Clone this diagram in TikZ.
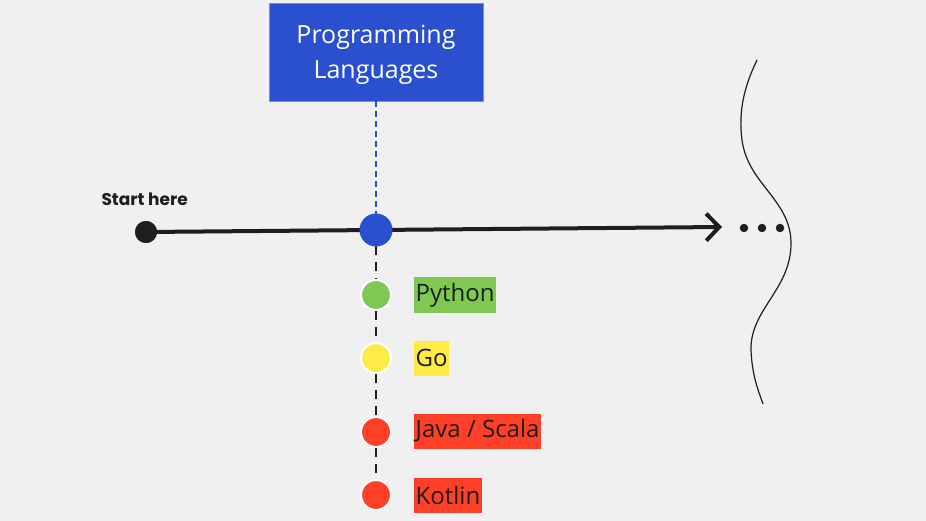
\documentclass[tikz,border=0pt]{standalone}
\usepackage{fontspec}
\setmainfont{Open Sans}
\newfontfamily\startfont{Poppins}
\usetikzlibrary{arrows.meta}
\definecolor{bg}{HTML}{F0F0F0}
\definecolor{ink}{HTML}{1E1E1E}
\definecolor{titleblue}{HTML}{2A50D0}
\definecolor{titleedge}{HTML}{7090E8}
\definecolor{pygreen}{HTML}{7FC852}
\definecolor{goyellow}{HTML}{FFEB45}
\definecolor{javared}{HTML}{FF4026}
\tikzset{
  dotnode/.style={circle,draw=white,line width=2pt,minimum size=30pt,inner sep=0pt},
  lbl/.style={anchor=west,inner xsep=1.5pt,inner ysep=0pt,minimum height=35pt,text=ink,font=\fontsize{24}{28}\selectfont},
  dots/.style={circle,fill=ink,inner sep=0pt,minimum size=8.5pt},
  dashlink/.style={ink,line width=2pt,dash pattern=on 9pt off 7pt}
}
\begin{document}
\begin{tikzpicture}[x=1pt,y=-1pt]
\useasboundingbox (0,0) rectangle (926,521);
\fill[bg] (0,0) rectangle (926,521);
% title
\node[fill=titleblue,draw=titleedge,line width=0.8pt,minimum width=214pt,minimum height=98pt,text=white,align=center,
  text depth=0pt,font=\fontsize{25}{35}\selectfont] (title) at (376,52) {Programming\\Languages};
% start
\node[circle,fill=ink,minimum size=22pt,inner sep=0pt] (start) at (146,232) {};
\node[font=\startfont\bfseries\fontsize{17}{19}\selectfont,text=ink,anchor=base west] (startlbl) at (98,206) {Start here};
\coordinate (arrowend) at (722,227);
% bullets
\node[dotnode,fill=pygreen] (py) at (376,295) {};
\node[dotnode,fill=goyellow] (go) at (376,358) {};
\node[dotnode,fill=javared] (java) at (376,432) {};
\node[dotnode,fill=javared] (kt) at (376,495) {};
\coordinate (hubc) at (376,230);
% connectors
\draw[titleblue,line width=1.5pt,dash pattern=on 6pt off 4pt] (title.south) -- (hubc);
\draw[dashlink] (hubc) -- (py.north);
\draw[dashlink] (py.south) -- (go.north);
\draw[dashlink] (go.south) -- (java.north);
\draw[dashlink] (java.south) -- (kt.north);
\draw[ink,line width=4pt,-{Straight Barb[length=13pt,width=27pt]}] (start.center) -- (arrowend);
% hub on top
\node[circle,fill=titleblue,minimum size=33pt,inner sep=0pt] (hub) at (hubc) {};
\node[circle,fill=ink,minimum size=22pt,inner sep=0pt] at (start) {};
% labels
\node[lbl,fill=pygreen] (pylbl) at (414,295) {Python};
\node[lbl,fill=goyellow] (golbl) at (414,358) {Go};
\node[lbl,fill=javared] (javalbl) at (414,431) {Java / Scala};
\node[lbl,fill=javared] (ktlbl) at (414,495) {Kotlin};
% ellipsis
\node[dots] (d1) at (744,228) {};
\node[dots] (d2) at (762,228) {};
\node[dots] (d3) at (780,228) {};
% wavy edge
\draw[ink,line width=1.2pt] (757,60) .. controls (745,85) and (738,110) .. (742,140)
  .. controls (748,185) and (792,200) .. (791,245)
  .. controls (790,290) and (750,310) .. (751,350)
  .. controls (752,375) and (758,390) .. (763,404);
\end{tikzpicture}
\end{document}
